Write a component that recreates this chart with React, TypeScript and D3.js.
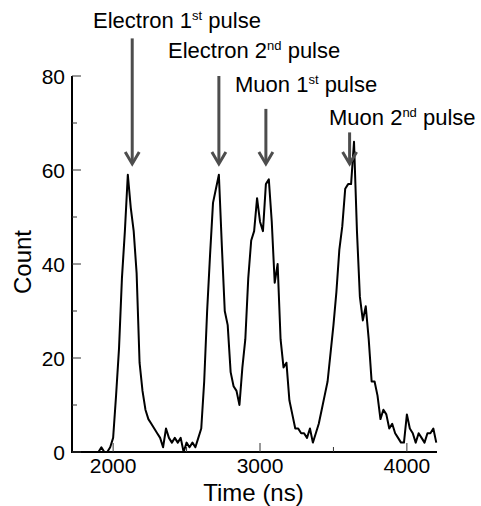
import React from "react";
import * as d3 from "d3";

// Histogram bins (ns) start and width, counts
const binStart = 1900;
const binWidth = 20;
const counts = [
  0, 1, 0, 0, 1, 3, 12, 22, 37, 47,
  59, 52, 47, 38, 19, 13, 9, 7, 6, 5,
  4, 3, 1, 5, 3, 2, 3, 2, 3, 0,
  2, 1, 2, 1, 3, 5, 15, 30, 42, 53,
  56, 59, 44, 30, 27, 17, 14, 13, 10, 18,
  24, 37, 45, 47, 54, 49, 47, 57, 58, 49,
  36, 40, 24, 18, 19, 11, 8, 5, 5, 4,
  4, 3, 5, 2, 4, 6, 9, 12, 15, 21,
  27, 34, 43, 48, 56, 57, 57, 66, 47, 33,
  28, 31, 24, 15, 15, 12, 7, 9, 8, 5,
  6, 4, 3, 2, 2, 8, 5, 4, 2, 4,
  3, 2, 4, 4, 5, 2,
];

const xMajorTicks = [2000, 3000, 4000];
const xMinorTicks = [2500, 3500];
const yMajorTicks = [0, 20, 40, 60, 80];
const yMinorTicks = [10, 30, 50, 70];

const annotationMain = ["Electron 1", "Electron 2", "Muon 1", "Muon 2"];
const annotationSup = ["st", "nd", "st", "nd"];
const arrowTimes = [2130, 2720, 3040, 3610];
const arrowTops = [88, 80, 73, 68];
const arrowTip = 61.3;

const W = 481;
const H = 506;
const M = { left: 72, right: 44, top: 76, bottom: 54 };

export default function App() {
  const x = d3.scaleLinear().domain([1720, 4205]).range([M.left, W - M.right]);
  const y = d3.scaleLinear().domain([0, 80]).range([H - M.bottom, M.top]);
  const data = counts.map((c, i) => ({ t: binStart + i * binWidth, c }));
  const line = d3
    .line<{ t: number; c: number }>()
    .x((d) => x(d.t))
    .y((d) => y(d.c));

  const font = "'Liberation Sans', Arial, Helvetica, sans-serif";
  const x0 = x.range()[0];
  const x1 = x.range()[1];
  const y0 = y.range()[0];
  const yTop = y.range()[1];

  // label placement (layout)
  const labelPos = [
    { lx: 93, ly: 28 },
    { lx: 168, ly: 58 },
    { lx: 235, ly: 92 },
    { lx: 329, ly: 125 },
  ];

  return (
    <svg
      width={W}
      height={H}
      style={{ position: "absolute", left: 0, top: 0, background: "#fff" }}
      fontFamily={font}
    >
      <rect width={W} height={H} fill="#fff" />
      {/* data */}
      <path d={line(data) || ""} fill="none" stroke="#000" strokeWidth={2} strokeLinejoin="round" />

      {/* axes */}
      <line x1={x0} x2={x0} y1={yTop} y2={y0} stroke="#000" strokeWidth={2} />
      <line x1={x0 - 1} x2={x1} y1={y0} y2={y0} stroke="#000" strokeWidth={2} />
      {yMajorTicks.map((v) => (
        <g key={"ym" + v}>
          <line x1={x0} x2={x0 + 9} y1={y(v)} y2={y(v)} stroke="#333" strokeWidth={1} />
          <text x={x0 - 7} y={y(v)} dy="0.36em" textAnchor="end" fontSize={21}>
            {v}
          </text>
        </g>
      ))}
      {yMinorTicks.map((v) => (
        <line key={"yn" + v} x1={x0} x2={x0 + 5} y1={y(v)} y2={y(v)} stroke="#333" strokeWidth={1} />
      ))}
      {xMajorTicks.map((v) => (
        <g key={"xm" + v}>
          <line x1={x(v)} x2={x(v)} y1={y0} y2={y0 - 9} stroke="#333" strokeWidth={1} />
          <text x={x(v)} y={y0 + 21} textAnchor="middle" fontSize={21}>
            {v}
          </text>
        </g>
      ))}
      {xMinorTicks.map((v) => (
        <line key={"xn" + v} x1={x(v)} x2={x(v)} y1={y0} y2={y0 - 5} stroke="#333" strokeWidth={1} />
      ))}

      <text x={(x0 + x1) / 2 - 1} y={501} textAnchor="middle" fontSize={24}>
        Time (ns)
      </text>
      <text
        transform={`translate(31, ${(yTop + y0) / 2 - 2}) rotate(-90)`}
        textAnchor="middle"
        fontSize={24}
      >
        Count
      </text>

      {/* arrows */}
      {arrowTimes.map((t, i) => {
        const ax = x(t);
        const tip = y(arrowTip);
        return (
          <g key={"ar" + i} stroke="#4d4d4d" strokeWidth={3} fill="none">
            <line x1={ax} x2={ax} y1={y(arrowTops[i])} y2={tip - 1} />
            <polyline points={`${ax - 7},${tip - 12} ${ax},${tip} ${ax + 7},${tip - 12}`} />
          </g>
        );
      })}

      {/* labels */}
      {annotationMain.map((s, i) => (
        <text key={"lb" + i} x={labelPos[i].lx} y={labelPos[i].ly} fontSize={22}>
          {s}
          <tspan fontSize={13} dy={-8}>
            {annotationSup[i]}
          </tspan>
          <tspan dy={8}> pulse</tspan>
        </text>
      ))}
    </svg>
  );
}
